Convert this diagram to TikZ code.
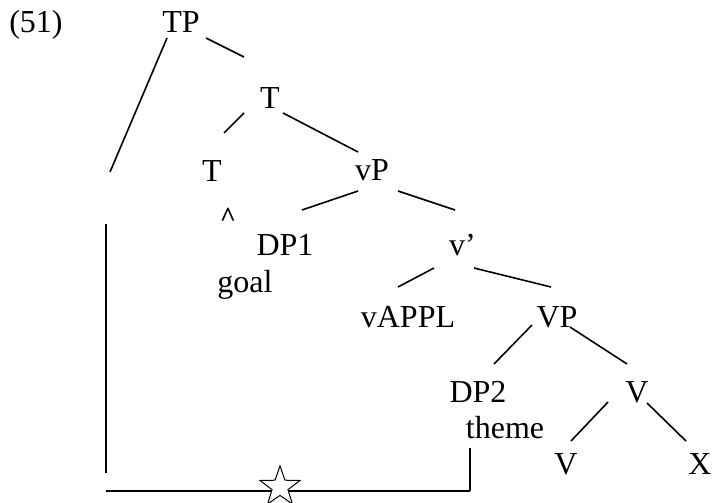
\documentclass[tikz,border=0pt]{standalone}
\usepackage{fontspec}
\setmainfont{Liberation Serif}
\usetikzlibrary{shapes.geometric,calc}
\begin{document}
\begin{tikzpicture}[x=1pt,y=-1pt,
  lbl/.style={anchor=base,inner sep=0pt,font=\fontsize{32}{38}\selectfont},
  edge/.style={line width=1.6pt,line cap=butt}]
\useasboundingbox (0,0) rectangle (712,503);
% labels
\node[lbl] (num) at (36,33) {(51)};
\node[lbl] (TP) at (181,33) {TP};
\node[lbl] (T1) at (270,108) {T};
\node[lbl] (T2) at (212,181) {T};
\node[lbl,font=\fontsize{28}{34}\selectfont\bfseries] (car) at (228,226) {\textasciicircum};
\node[lbl] (vP) at (372,180) {vP};
\node[lbl] (DP1) at (285,255) {DP1};
\node[lbl] (goal) at (245,292) {goal};
\node[lbl,anchor=base west] (vbar) at (449,255) {v’};
\node[lbl] (vAPPL) at (408,327) {vAPPL};
\node[lbl] (VP) at (557,327) {VP};
\node[lbl] (DP2) at (478,402) {DP2};
\node[lbl] (theme) at (505,438) {theme};
\node[lbl] (V1) at (637,402) {V};
\node[lbl] (V2) at (566,474) {V};
\node[lbl] (X) at (700,474) {X};
% free ends
\coordinate (lefttop) at (110,172);
\coordinate (vtop) at (106,224);
\coordinate (vbot) at (106,473);
\coordinate (hleft) at (106,491);
\coordinate (hright) at (470,491);
% tree edges
\draw[edge] ($(TP.base)+(25,5)$) -- ($(T1.base)+(-26,-51)$);
\draw[edge] ($(TP.base)+(-14,5)$) -- (lefttop);
\draw[edge] ($(T1.base)+(-26,5)$) -- ($(T2.base)+(12,-48)$);
\draw[edge] ($(T1.base)+(13,5)$) -- ($(vP.base)+(-14,-28)$);
\draw[edge] ($(vP.base)+(-14,11)$) -- ($(DP1.base)+(17,-45)$);
\draw[edge] ($(vP.base)+(26,11)$) -- ($(vbar.base west)+(6,-45)$);
\draw[edge] ($(vbar.base west)+(-15,13)$) -- ($(vAPPL.base)+(-10,-40)$);
\draw[edge] ($(vbar.base west)+(25,13)$) -- ($(VP.base)+(-6,-40)$);
\draw[edge] ($(VP.base)+(-25,-2)$) -- ($(DP2.base)+(16,-38)$);
\draw[edge] ($(VP.base)+(13,0)$) -- ($(V1.base)+(-10,-38)$);
\draw[edge] ($(V1.base)+(-29,0)$) -- ($(V2.base)+(5,-33)$);
\draw[edge] ($(V1.base)+(10,1)$) -- ($(X.base)+(-14,-33)$);
% movement path
\draw[edge] (vtop) -- (vbot);
\draw[edge] (hleft) -- (hright);
\draw[edge] ($(theme.base)+(-35,10)$) -- (hright);
\node[star,star points=5,star point ratio=2.5,draw,fill=white,line width=1pt,
  minimum size=42pt,inner sep=0pt] (star) at (280,487) {};
\end{tikzpicture}
\end{document}
